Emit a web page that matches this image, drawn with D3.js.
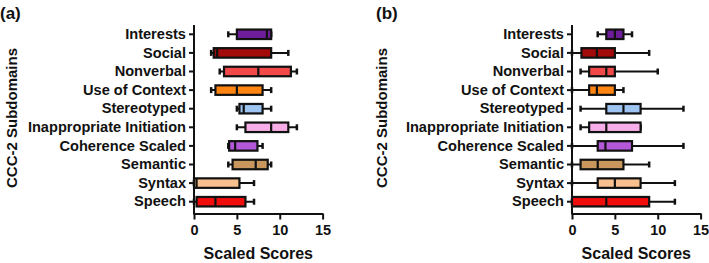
<!DOCTYPE html>
<html>
<head>
<meta charset="utf-8">
<script src="https://cdn.jsdelivr.net/npm/d3@7"></script>
<style>
  body { margin: 0; background: #fff; }
  text { font-family: "Liberation Sans", Arial, sans-serif; font-weight: bold; fill: #111; }
</style>
</head>
<body>
<script>
var categories = ["Interests", "Social", "Nonverbal", "Use of Context", "Stereotyped",
  "Inappropriate Initiation", "Coherence Scaled", "Semantic", "Syntax", "Speech"];

// [min, q1, median, q3, max] for each category, top to bottom
var panelA = [
  [4, 5, 8.5, 9, 9],
  [2, 2.3, 2.7, 9, 11],
  [3, 3.5, 7.5, 11.3, 12],
  [2, 2.5, 5, 8, 9],
  [5, 5.3, 5.8, 8, 9],
  [5, 6, 9, 11, 12],
  [4, 4.1, 4.8, 7.4, 8],
  [4, 4.5, 7.2, 8.6, 9],
  [0, 0, 0.3, 5.3, 7],
  [0, 0.3, 2.5, 6, 7]
];
var panelB = [
  [3, 4, 5, 6, 7],
  [0, 1.1, 2.9, 5, 9],
  [1, 2, 4, 5, 10],
  [0, 2, 2.9, 5, 6],
  [1, 4, 6, 8, 13],
  [1, 2, 4, 8, 8],
  [0, 3, 3.9, 7, 13],
  [0, 1, 3, 6, 9],
  [0, 3, 5, 8, 12],
  [0, 0, 4, 9, 12]
];
var xTicks = [0, 5, 10, 15];

var colors = ["#6f1d9b", "#a30a0a", "#f24a4a", "#ff8512", "#9ec4f2",
  "#f7aee8", "#b358d9", "#c9975e", "#f7c08e", "#f20d0d"];

var svg = d3.select("body").append("svg")
  .attr("width", 709)
  .attr("height", 263);

function drawPanel(data, x0, label, labelX, titleX) {
  var x = d3.scaleLinear().domain([0, 15]).range([x0, x0 + 128.6]);
  var y = d3.scaleBand().domain(categories).range([25, 211]);
  var axisY = 213.5;
  var g = svg.append("g");
  var bh = 9.5;

  // whiskers
  g.selectAll(".wh").data(data).enter().append("line")
    .attr("x1", function(d) { return x(d[0]); })
    .attr("x2", function(d) { return x(d[4]); })
    .attr("y1", function(d, i) { return y(categories[i]) + y.bandwidth() / 2; })
    .attr("y2", function(d, i) { return y(categories[i]) + y.bandwidth() / 2; })
    .attr("stroke", "#111").attr("stroke-width", 2);
  [0, 4].forEach(function(k) {
    g.selectAll(".cap" + k).data(data).enter().append("line")
      .attr("x1", function(d) { return x(d[k]); })
      .attr("x2", function(d) { return x(d[k]); })
      .attr("y1", function(d, i) { return y(categories[i]) + y.bandwidth() / 2 - 3; })
      .attr("y2", function(d, i) { return y(categories[i]) + y.bandwidth() / 2 + 3; })
      .attr("stroke", "#111").attr("stroke-width", 2.5);
  });

  // boxes
  g.selectAll(".box").data(data).enter().append("rect")
    .attr("x", function(d) { return x(d[1]); })
    .attr("width", function(d) { return x(d[3]) - x(d[1]); })
    .attr("y", function(d, i) { return y(categories[i]) + y.bandwidth() / 2 - bh / 2; })
    .attr("height", bh)
    .attr("fill", function(d, i) { return colors[i]; })
    .attr("stroke", "#111").attr("stroke-width", 2.2);

  // medians
  g.selectAll(".med").data(data).enter().append("line")
    .attr("x1", function(d) { return x(d[2]); })
    .attr("x2", function(d) { return x(d[2]); })
    .attr("y1", function(d, i) { return y(categories[i]) + y.bandwidth() / 2 - bh / 2; })
    .attr("y2", function(d, i) { return y(categories[i]) + y.bandwidth() / 2 + bh / 2; })
    .attr("stroke", "#111").attr("stroke-width", 2.2);

  // X axis
  var xa = g.append("g")
    .attr("transform", "translate(0," + axisY + ")")
    .call(d3.axisBottom(x).tickValues(xTicks).tickSize(6).tickSizeOuter(0).tickPadding(5));
  xa.selectAll("path, line").attr("stroke", "#111").attr("stroke-width", 2);
  xa.selectAll("text").style("font-size", "14.5px").attr("fill", "#111");

  // Y axis
  var ya = g.append("g")
    .attr("transform", "translate(" + x0 + ",0)")
    .call(d3.axisLeft(y).tickSize(5).tickSizeOuter(0).tickPadding(3));
  ya.select(".domain").attr("d", "M0," + 25 + "V" + (axisY + 1));
  ya.selectAll("path, line").attr("stroke", "#111").attr("stroke-width", 2);
  ya.selectAll("text").style("font-size", "14.6px").attr("fill", "#111");

  g.append("text")
    .attr("x", x(7.5)).attr("y", 259)
    .attr("text-anchor", "middle")
    .style("font-size", "16px")
    .text("Scaled Scores");

  g.append("text")
    .attr("transform", "translate(" + titleX + ",118) rotate(-90)")
    .attr("text-anchor", "middle")
    .style("font-size", "15px")
    .text("CCC-2 Subdomains");

  g.append("text")
    .attr("x", labelX).attr("y", 19)
    .style("font-size", "17px")
    .text(label);
}

drawPanel(panelA, 194, "(a)", 0, 17);
drawPanel(panelB, 572, "(b)", 376, 387);
</script>
</body>
</html>
